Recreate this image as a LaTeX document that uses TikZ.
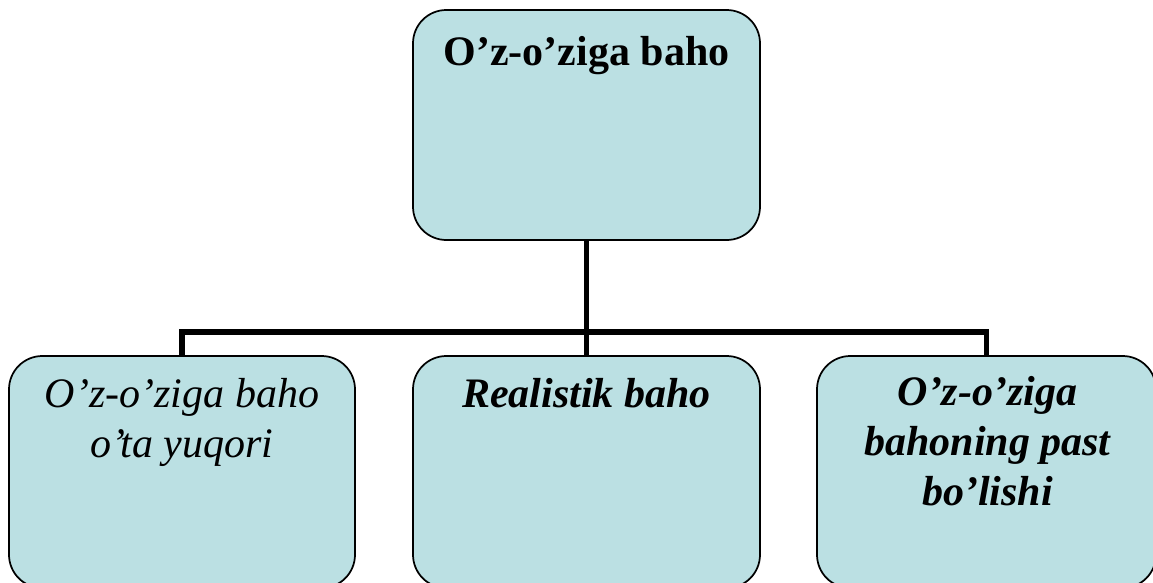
\documentclass[tikz,border=0pt]{standalone}
\usepackage{fontspec}
\setmainfont{Liberation Serif}
\definecolor{boxfill}{RGB}{187,224,227}
\tikzset{
  box/.style={draw=black, line width=1.3pt, fill=boxfill, rounded corners=25pt, inner sep=0pt, minimum height=174pt},
  txt/.style={align=center, inner sep=0pt, anchor=base, font=\fontsize{31.5}{37.5}\selectfont},
  conn/.style={draw=black, line width=4.2pt}
}
\begin{document}
\begin{tikzpicture}[x=0.75pt, y=-0.75pt]
\useasboundingbox (0,0) rectangle (1153,582);
% boxes
\node[box, minimum width=260.25pt, minimum height=172.5pt] (top) at (586.5,125) {};
\node[box, minimum width=259.5pt] (lb) at (182,472) {};
\node[box, minimum width=260.25pt] (mb) at (586.5,472) {};
\node[box, minimum width=254.25pt] (rb) at (986.5,472) {};
% connectors
\coordinate (bus) at (586.5,332);
\draw[conn] (top.south) -- (bus);
\draw[conn] (lb.north) |- (bus) -| (rb.north);
\draw[conn] (bus) -- (mb.north);
% texts (base anchor = baseline of last line)
\node[txt, font=\fontsize{31.5}{37.5}\selectfont\bfseries] (ttop) at (586.5,65) {O’z-o’ziga baho};
\node[txt, font=\fontsize{31.5}{37.5}\selectfont\itshape] (tl) at (182,457) {O’z-o’ziga baho\\o’ta yuqori};
\node[txt, font=\fontsize{31.5}{37.5}\selectfont\bfseries\itshape] (tm) at (586.5,407) {Realistik baho};
\node[txt, font=\fontsize{31.5}{37.5}\selectfont\bfseries\itshape] (tr) at (987.5,505) {O’z-o’ziga\\bahoning past\\bo’lishi};
\end{tikzpicture}
\end{document}
